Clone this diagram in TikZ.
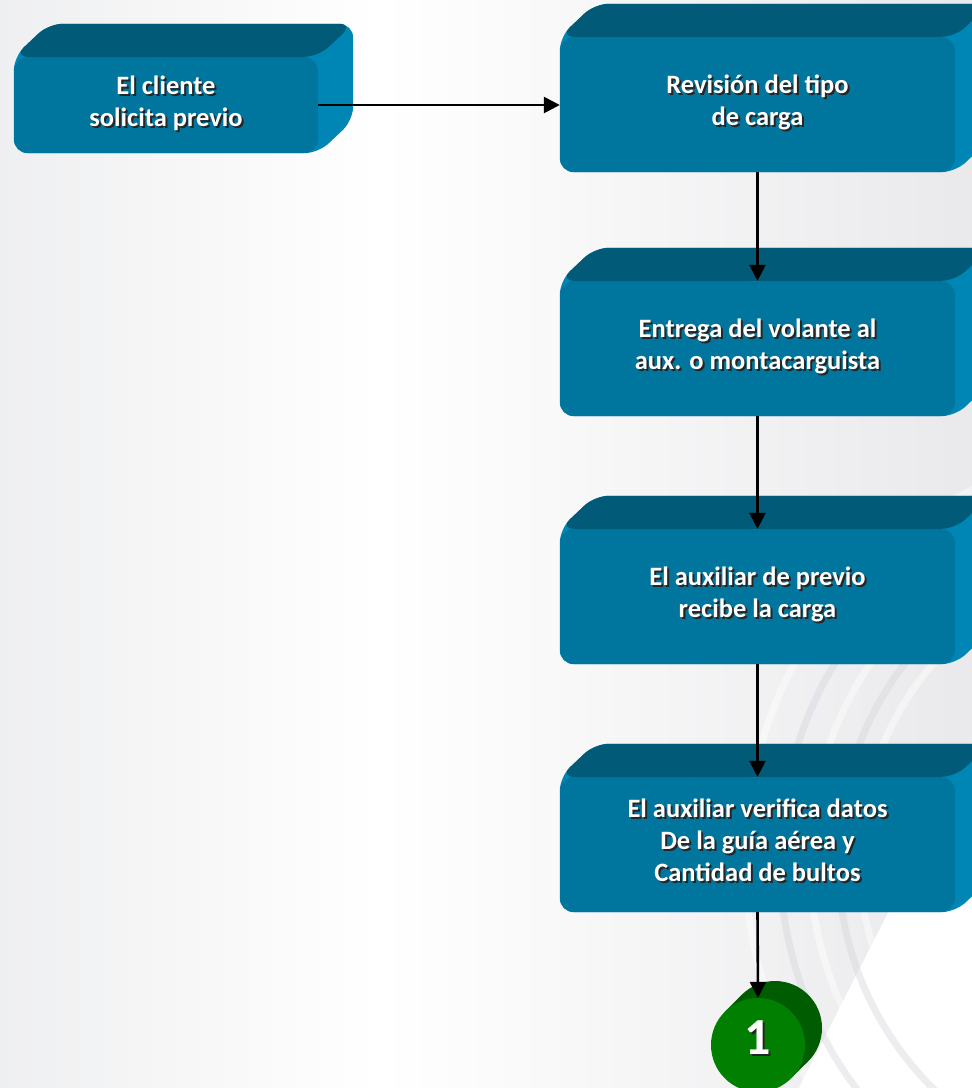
\documentclass[tikz,border=0pt]{standalone}
\usepackage{fontspec}
\setmainfont{Carlito}
\usetikzlibrary{arrows.meta,calc}
\pgfdeclarelayer{fondo}
\pgfdeclarelayer{relieve}
\pgfsetlayers{fondo,relieve,main}

\definecolor{frente}{HTML}{00769E}
\definecolor{techo}{HTML}{005A78}
\definecolor{lado}{HTML}{0086B4}
\definecolor{verde}{HTML}{007F00}
\definecolor{verdeosc}{HTML}{005C00}
\definecolor{gris1}{HTML}{D6D7DB}
\definecolor{gris2}{HTML}{DCDCE0}

% texto con sombra
\newcommand\sombra[1]{%
  \makebox[0pt][l]{\hspace{2pt}\raisebox{-2pt}{\color{black!85}\begin{tabular}{@{}c@{}}#1\end{tabular}}}%
  \begin{tabular}{@{}c@{}}#1\end{tabular}}

\begin{document}
\begin{tikzpicture}[x=1pt, y=-1pt,
   paso/.style={rectangle, rounded corners=14pt, fill=frente, text=white,
     font=\fontsize{26.5}{32}\selectfont\bfseries, inner sep=0pt,
     minimum width=395pt, minimum height=135pt},
   flecha/.style={line width=2.6pt, -{Triangle[length=16pt,width=16pt]}}]
\useasboundingbox (0,0) rectangle (972,1088);

% pasos
\node[paso, minimum width=304pt, minimum height=96pt] (cliente) at (166,105)
  {\sombra{El cliente\\solicita previo}};
\node[paso] (revision) at (757.5,104.5) {\sombra{Revisión del tipo\\de carga}};
\node[paso] (entrega)  at (757.5,348.5) {\sombra{Entrega del volante al\\aux. o montacarguista}};
\node[paso] (recibe)   at (757.5,596.5) {\sombra{El auxiliar de previo\\recibe la carga}};
\node[paso] (verifica) at (757.5,844.5)
  {\sombra{El auxiliar verifica datos\\De la guía aérea y\\Cantidad de bultos}};
\node[circle, fill=verde, minimum size=94pt, inner sep=0pt, text=white,
  font=\fontsize{52}{52}\selectfont\bfseries] (conector) at (758,1045) {\sombra{1}};

% flechas
\draw[flecha] (cliente.east) -- (cliente.east -| revision.west);
\draw[flecha] (revision.south) -- (entrega.north);
\draw[flecha] (entrega.south) -- (recibe.north);
\draw[flecha] (recibe.south) -- (verifica.north);
\draw[flecha] (verifica.south) -- (conector.north);

% relieve de las cajas
\begin{pgfonlayer}{relieve}
\foreach \n in {cliente,revision,entrega,recibe,verifica} {
  \fill[lado, rounded corners=14pt] (\n.north west) -- ++(35,-33)
    -- ($(\n.north east)+(35,-33)$) -- ($(\n.south east)+(35,-33)$)
    -- (\n.south east) -- (\n.south west) -- cycle;
  \fill[techo, rounded corners=14pt] (\n.north west) -- ++(35,-33)
    -- ($(\n.north east)+(35,-33)$) -- (\n.north east) -- cycle;
}
\fill[verdeosc] ($(conector.center)+(33.2,33.2)$) -- ($(conector.center)+(-33.2,-33.2)$)
  -- ($(conector.center)+(-16.2,-50.2)$) -- ($(conector.center)+(50.2,16.2)$) -- cycle;
\fill[verdeosc] ($(conector.center)+(17,-17)$) circle (47);
\end{pgfonlayer}

% fondo
\begin{pgfonlayer}{fondo}
\begin{scope}
\clip (0,0) rectangle (972,1088);
\begin{scope}[shift={(380,544)}, rotate=-27]
  \shade[left color=gris1, right color=gris2, middle color=white]
    (-620,-900) rectangle (620,900);
\end{scope}
\foreach \r/\c in {300/white, 322/gris1, 350/white, 380/gris1, 415/white} {
  \draw[\c, line width=7pt, opacity=.45] (1160,860) circle (\r);
}
\end{scope}
\end{pgfonlayer}
\end{tikzpicture}
\end{document}
